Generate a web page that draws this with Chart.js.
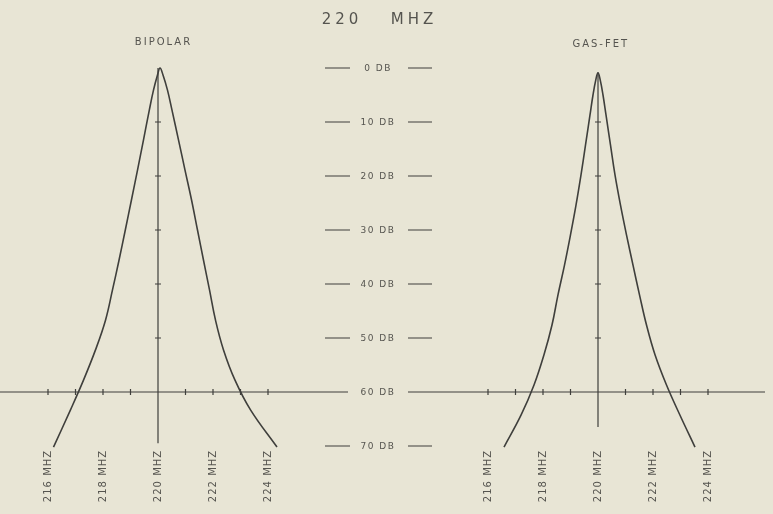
<!DOCTYPE html>
<html>
<head>
<meta charset="utf-8">
<script src="https://cdn.jsdelivr.net/npm/chart.js@4.4.1/dist/chart.umd.min.js"></script>
<style>
  html, body { margin: 0; padding: 0; background: #e8e5d5; }
  #wrap { width: 773px; height: 514px; position: relative; }
</style>
</head>
<body>
<div id="wrap"><canvas id="chart"></canvas></div>
<script>
// Response curves, 220 MHz (frequency in MHz, attenuation in dB)
const bipolarMHz = [216.2, 216.818, 217.291, 217.727, 218.091, 218.345, 218.582, 218.811, 219.036, 219.255,
                    219.473, 219.684, 219.836, 219.982, 220.073,
                    220.182, 220.345, 220.509, 220.745, 220.982, 221.218, 221.436, 221.655, 221.873,
                    222.091, 222.382, 222.8, 223.364, 224.327];
const bipolarDB = [70.2, 63.3, 57.8, 52.2, 46.7, 41.1, 35.6, 30, 24.4, 18.9,
                   13.3, 7.8, 4.1, 1.3, 0,
                   1.3, 4.1, 7.8, 13.3, 18.9, 24.4, 30, 35.6, 41.1,
                   46.7, 52.2, 57.8, 63.3, 70.2];

const gasfetMHz = [216.582, 217.2, 217.673, 218.036, 218.327, 218.545, 218.782, 219.0, 219.2, 219.382,
                   219.545, 219.709, 219.818, 219.92, 220.0,
                   220.08, 220.182, 220.291, 220.455, 220.618, 220.818, 221.036, 221.273, 221.509,
                   221.764, 222.073, 222.491, 222.982, 223.527];
const gasfetDB = [70.2, 64.3, 58.7, 53.1, 47.6, 42, 36.5, 30.9, 25.4, 19.8,
                  14.3, 8.7, 5, 2.2, 0.9,
                  2.2, 5, 8.7, 14.3, 19.8, 25.4, 30.9, 36.5, 42,
                  47.6, 53.1, 58.7, 64.3, 70.2];

// scale labels
const dbLevels = [0, 10, 20, 30, 40, 50, 60, 70];
const dbLabels = ['0 DB', '10 DB', '20 DB', '30 DB', '40 DB', '50 DB', '60 DB', '70 DB'];
const freqTicks = [216, 217, 218, 219, 220, 221, 222, 223, 224];
const freqLabels = [216, 218, 220, 222, 224];
const centerMHz = 220;
const axisDB = 60;
const vTickDB = [10, 20, 30, 40, 50];

const ink = '#3f3f3c';
const textInk = '#55544f';

const pts = (xs, ys) => xs.map((x, i) => ({ x: x, y: ys[i] }));

// axes, dB scale, labels
const decor = {
  id: 'decor',
  beforeDraw(chart) {
    const c = chart.ctx;
    c.save();
    c.fillStyle = '#e8e5d5';
    c.fillRect(0, 0, chart.width, chart.height);
    c.restore();
  },
  afterDatasetsDraw(chart) {
    const c = chart.ctx;
    const y = chart.scales.y;
    const x1 = chart.scales.x1;
    const x2 = chart.scales.x2;
    const midX = x1.getPixelForValue(228);
    const yAxis = y.getPixelForValue(axisDB);
    c.save();
    c.strokeStyle = ink;
    c.lineWidth = 1.2;

    // horizontal axis, broken by the 60 DB label
    c.beginPath();
    c.moveTo(0, yAxis); c.lineTo(midX - 30, yAxis);
    c.moveTo(midX + 30, yAxis); c.lineTo(chart.width - 8, yAxis);
    c.stroke();

    // frequency ticks + vertical center lines
    [[x1, 0, 69.5], [x2, 0.9, 66.5]].forEach(([sx, top, bottom]) => {
      c.beginPath();
      freqTicks.forEach(f => {
        if (f === centerMHz) return;
        const px = sx.getPixelForValue(f);
        c.moveTo(px, yAxis - 3); c.lineTo(px, yAxis + 3);
      });
      const cx = sx.getPixelForValue(centerMHz);
      c.moveTo(cx, y.getPixelForValue(top));
      c.lineTo(cx, y.getPixelForValue(bottom));
      vTickDB.forEach(d => {
        const py = y.getPixelForValue(d);
        c.moveTo(cx - 3, py); c.lineTo(cx + 3, py);
      });
      c.stroke();

      // rotated frequency labels
      c.fillStyle = textInk;
      c.font = '10px "DejaVu Sans"';
      c.letterSpacing = '1px';
      c.textAlign = 'center';
      c.textBaseline = 'middle';
      freqLabels.forEach(f => {
        c.save();
        c.translate(sx.getPixelForValue(f), 476);
        c.rotate(-Math.PI / 2);
        c.fillText(f + ' MHZ', 0, 0);
        c.restore();
      });
    });

    // central dB scale
    c.font = '9px "DejaVu Sans"';
    c.letterSpacing = '1.5px';
    c.fillStyle = textInk;
    c.textAlign = 'center';
    c.textBaseline = 'middle';
    c.beginPath();
    dbLevels.forEach((d, i) => {
      const py = y.getPixelForValue(d);
      if (d !== axisDB) {
        c.moveTo(midX - 53, py); c.lineTo(midX - 28, py);
        c.moveTo(midX + 30, py); c.lineTo(midX + 54, py);
      }
      c.fillText(dbLabels[i], midX, py + 1);
    });
    c.stroke();

    // titles
    c.font = '15px "DejaVu Sans"';
    c.letterSpacing = '4px';
    c.fillText('220', midX - 36, 20);
    c.fillText('MHZ', midX + 36, 20);
    c.font = '10px "DejaVu Sans"';
    c.letterSpacing = '2px';
    c.fillText('BIPOLAR', x1.getPixelForValue(220.2), 42);
    c.fillText('GAS-FET', x2.getPixelForValue(220.1), 44);
    c.restore();
  }
};

new Chart(document.getElementById('chart'), {
  type: 'scatter',
  data: {
    datasets: [
      { label: 'Bipolar', data: pts(bipolarMHz, bipolarDB), xAxisID: 'x1' },
      { label: 'GaAs-FET', data: pts(gasfetMHz, gasfetDB), xAxisID: 'x2' }
    ].map(ds => Object.assign(ds, {
      showLine: true,
      borderColor: ink,
      borderWidth: 1.6,
      pointRadius: 0,
      tension: 0.4,
      fill: false
    }))
  },
  options: {
    responsive: true,
    maintainAspectRatio: false,
    animation: false,
    devicePixelRatio: 1,
    layout: { padding: 0 },
    plugins: { legend: { display: false }, tooltip: { enabled: false } },
    scales: {
      x1: { type: 'linear', display: false, min: 220 - 158 / 27.5, max: 220 + 615 / 27.5 },
      x2: { type: 'linear', display: false, min: 220 - 598 / 27.5, max: 220 + 175 / 27.5 },
      y: { type: 'linear', display: false, reverse: true, min: -68 / 5.4, max: 446 / 5.4 }
    }
  },
  plugins: [decor]
});
</script>
</body>
</html>
